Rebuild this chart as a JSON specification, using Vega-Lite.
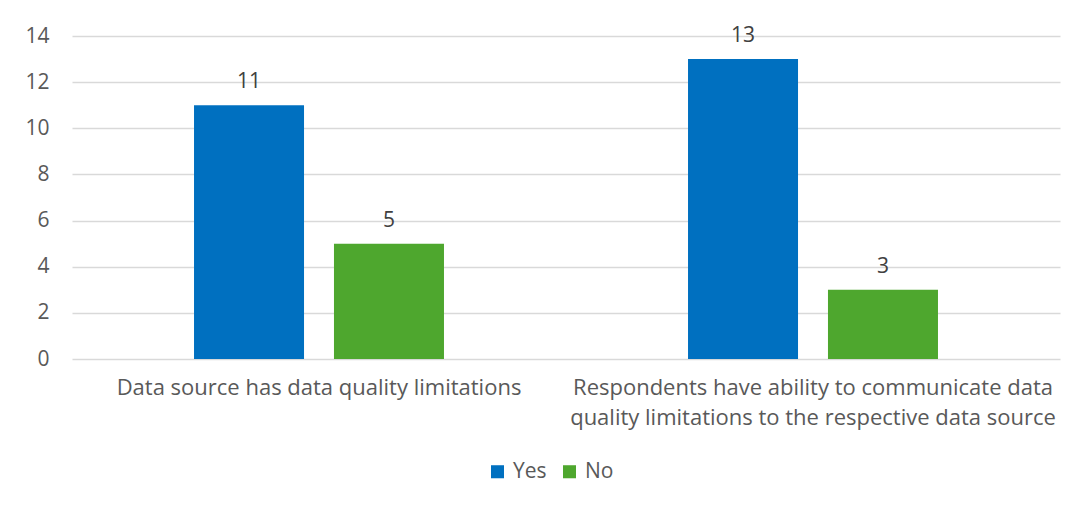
{
  "$schema": "https://vega.github.io/schema/vega-lite/v6.json",
  "width": 988,
  "height": 323,
  "autosize": {"type": "none"},
  "padding": {"left": 72, "top": 36, "right": 19, "bottom": 149},
  "background": "white",
  "config": {
    "view": {"stroke": null},
    "font": "Open Sans"
  },
  "data": {
    "values": [
      {"category": "Data source has data quality limitations", "response": "Yes", "value": 11},
      {"category": "Data source has data quality limitations", "response": "No", "value": 5},
      {"category": "Respondents have ability to communicate data quality limitations to the respective data source", "response": "Yes", "value": 13},
      {"category": "Respondents have ability to communicate data quality limitations to the respective data source", "response": "No", "value": 3}
    ]
  },
  "encoding": {
    "x": {
      "field": "category",
      "type": "nominal",
      "sort": null,
      "scale": {"paddingInner": 0.494, "paddingOuter": 0.247},
      "axis": {
        "title": null,
        "labelAngle": 0,
        "domain": false,
        "ticks": false,
        "grid": false,
        "labelLimit": 0,
        "labelPadding": 18,
        "labelFontSize": 22,
        "labelColor": "#595959",
        "labelLineHeight": 30,
        "labelExpr": "indexof(datum.label, 'Respondents') == 0 ? ['Respondents have ability to communicate data', 'quality limitations to the respective data source'] : datum.label"
      }
    },
    "xOffset": {
      "field": "response",
      "type": "nominal",
      "sort": ["Yes", "No"],
      "scale": {"paddingInner": 0.214, "paddingOuter": 0}
    },
    "y": {
      "field": "value",
      "type": "quantitative",
      "scale": {"domain": [0, 14], "nice": false},
      "axis": {
        "title": null,
        "values": [0, 2, 4, 6, 8, 10, 12, 14],
        "domain": false,
        "ticks": false,
        "grid": true,
        "gridColor": "#d9d9d9",
        "gridWidth": 1.5,
        "labelPadding": 23,
        "labelFontSize": 21,
        "labelColor": "#595959"
      }
    }
  },
  "layer": [
    {
      "mark": {"type": "bar"},
      "encoding": {
        "color": {
          "field": "response",
          "type": "nominal",
          "sort": ["Yes", "No"],
          "scale": {"domain": ["Yes", "No"], "range": ["#0070C0", "#4EA72E"]},
          "legend": {
            "title": null,
            "orient": "none",
            "direction": "horizontal",
            "legendX": 415,
            "legendY": 425,
            "symbolType": "square",
            "symbolSize": 170,
            "symbolStrokeWidth": 0,
            "symbolOpacity": 1,
            "labelFontSize": 21,
            "labelColor": "#595959",
            "labelOffset": 5,
            "columnPadding": 12
          }
        }
      }
    },
    {
      "mark": {"type": "text", "dy": -17, "baseline": "alphabetic", "fontSize": 21, "color": "#404040"},
      "encoding": {"text": {"field": "value", "type": "quantitative"}}
    }
  ]
}
